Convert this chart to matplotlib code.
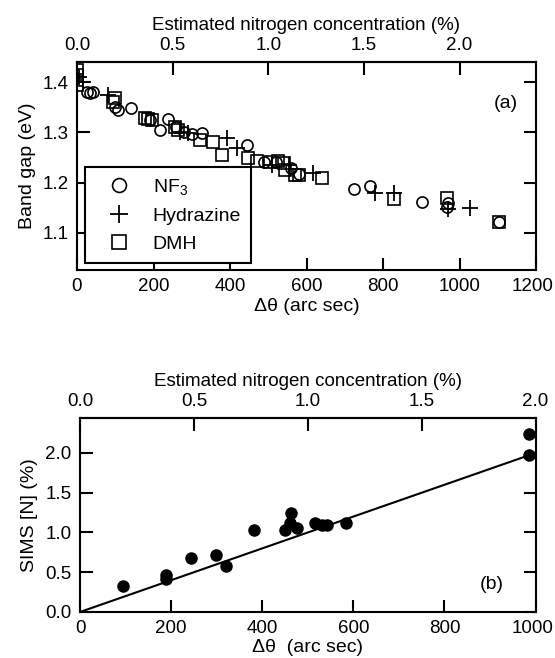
import matplotlib
matplotlib.use("Agg")
import matplotlib.pyplot as plt
from matplotlib.lines import Line2D
from matplotlib.transforms import ScaledTranslation

plt.rcParams['font.family'] = ['Liberation Sans', 'DejaVu Sans']
plt.rcParams['mathtext.fontset'] = 'custom'
plt.rcParams['mathtext.rm'] = 'Liberation Sans'
plt.rcParams['mathtext.it'] = 'Liberation Sans:italic'
plt.rcParams['font.size'] = 14

# ---- Panel (a) data ----
nf3_x = [25, 35, 42, 100, 108, 141, 190, 217, 238, 260, 280, 300, 326, 444,
         490, 520, 560, 580, 724, 766, 901, 967, 970, 1103]
nf3_y = [1.380, 1.378, 1.380, 1.350, 1.345, 1.348, 1.325, 1.305, 1.326, 1.310,
         1.300, 1.297, 1.298, 1.275, 1.240, 1.240, 1.230, 1.218, 1.187, 1.193,
         1.162, 1.151, 1.160, 1.122]

hyd_x = [5, 16, 82, 270, 290, 392, 418, 510, 555, 617, 779, 829, 969, 1027]
hyd_y = [1.410, 1.400, 1.374, 1.300, 1.298, 1.288, 1.268, 1.235, 1.235, 1.220,
         1.180, 1.180, 1.148, 1.150]

dmh_x = [0, 0, 0, 0, 100, 95, 178, 185, 195, 255, 265, 321, 356, 378, 448,
         470, 505, 525, 540, 545, 570, 580, 640, 829, 967, 1103]
dmh_y = [1.424, 1.415, 1.405, 1.395, 1.368, 1.360, 1.328, 1.326, 1.325, 1.310,
         1.305, 1.285, 1.280, 1.255, 1.248, 1.242, 1.240, 1.242, 1.238, 1.225,
         1.215, 1.215, 1.210, 1.167, 1.169, 1.122]

legend_labels = ['NF$_3$', 'Hydrazine', 'DMH']

# ---- Panel (b) data ----
sims_x = [95, 188, 188, 243, 299, 321, 381, 450, 463, 462, 476, 516, 532, 543,
          585, 985, 985]
sims_y = [0.33, 0.46, 0.42, 0.68, 0.72, 0.58, 1.03, 1.03, 1.25, 1.12, 1.06,
          1.12, 1.10, 1.10, 1.12, 2.24, 1.97]
fit_x = [0, 1000]
fit_y = [0.0, 2.0]

xticks_a = [0, 200, 400, 600, 800, 1000, 1200]
yticks_a = [1.1, 1.2, 1.3, 1.4]
xticks_b = [0, 200, 400, 600, 800, 1000]
yticks_b = [0.0, 0.5, 1.0, 1.5, 2.0]
top_ticks_a = [0.0, 0.5, 1.0, 1.5, 2.0]
top_ticks_b = [0.0, 0.5, 1.0, 1.5, 2.0]

fig = plt.figure(figsize=(5.55, 6.58), dpi=100)
W, H = 555, 658

def add_ax(l, r, t, b):
    return fig.add_axes([l / W, 1 - b / H, (r - l) / W, (b - t) / H])

ax1 = add_ax(77, 536, 62, 270)
ax2 = add_ax(80, 535.5, 418, 612)

lw_sp = 1.5
tick_kw = dict(direction='in', length=9, width=1.5, labelsize=13.5, pad=6)

def conv(x):
    return x / 500.0

def inv(p):
    return p * 500.0

for ax in (ax1, ax2):
    for s in ax.spines.values():
        s.set_linewidth(lw_sp)
    ax.tick_params(axis='both', which='major', **tick_kw)
    ax.tick_params(axis='y', right=True, labelright=False)
    ax.tick_params(axis='x', top=False)

# Panel (a)
mk = dict(linestyle='none', color='black', markerfacecolor='none',
          markeredgecolor='black', markersize=8, markeredgewidth=1.2)
ax1.plot(nf3_x, nf3_y, marker='o', **mk)
ax1.plot(hyd_x, hyd_y, marker='+', linestyle='none', color='black',
         markersize=11, markeredgewidth=1.3)
ax1.plot(dmh_x, dmh_y, marker='s', **mk)
ax1.set_xlim(0, 1200)
ax1.set_ylim(1.026, 1.44)
ax1.set_xticks(xticks_a)
ax1.set_xticklabels([str(v) for v in xticks_a])
ax1.set_yticks(yticks_a)
ax1.set_yticklabels(['%.1f' % v for v in yticks_a])
ax1.set_xlabel('\u0394\u03b8 (arc sec)', fontsize=14, labelpad=2)
ax1.set_ylabel('Band gap (eV)', fontsize=14, labelpad=5)
ax1.text(0.935, 0.80, '(a)', transform=ax1.transAxes, fontsize=14,
         ha='center', va='center')

sec1 = ax1.secondary_xaxis('top', functions=(conv, inv))
sec1.set_xticks(top_ticks_a)
sec1.set_xticklabels(['%.1f' % v for v in top_ticks_a])
sec1.tick_params(**tick_kw)
sec1.spines['top'].set_linewidth(lw_sp)
sec1.set_xlabel('Estimated nitrogen concentration (%)', fontsize=13.5,
                labelpad=5)

handles = [
    Line2D([], [], marker='o', **{**mk, 'markersize': 10}),
    Line2D([], [], marker='+', linestyle='none', color='black', markersize=13,
           markeredgewidth=1.3),
    Line2D([], [], marker='s', **{**mk, 'markersize': 10}),
]
leg = ax1.legend(handles, legend_labels, loc='lower left',
                 bbox_to_anchor=(0.017, 0.034), borderaxespad=0,
                 fancybox=False, framealpha=1, edgecolor='black',
                 fontsize=14, handlelength=2.5, handletextpad=0.5,
                 labelspacing=0.55, borderpad=0.5)
leg.get_frame().set_linewidth(1.5)

# Panel (b)
ax2.plot(fit_x, fit_y, color='black', linewidth=1.5)
ax2.plot(sims_x, sims_y, marker='o', linestyle='none', color='black',
         markersize=8)
ax2.set_xlim(0, 1000)
ax2.set_ylim(0, 2.44)
ax2.set_xticks(xticks_b)
ax2.set_xticklabels([str(v) for v in xticks_b])
ax2.set_yticks(yticks_b)
ax2.set_yticklabels(['%.1f' % v for v in yticks_b])
ax2.set_xlabel('\u0394\u03b8  (arc sec)', fontsize=14, labelpad=1)
ax2.set_ylabel('SIMS [N] (%)', fontsize=14, labelpad=5)
ax2.text(0.905, 0.14, '(b)', transform=ax2.transAxes, fontsize=14,
         ha='center', va='center')

sec2 = ax2.secondary_xaxis('top', functions=(conv, inv))
sec2.set_xticks(top_ticks_b)
sec2.set_xticklabels(['%.1f' % v for v in top_ticks_b])
sec2.tick_params(**tick_kw)
sec2.spines['top'].set_linewidth(lw_sp)
sec2.set_xlabel('Estimated nitrogen concentration (%)', fontsize=13.5,
                labelpad=5)

# nudge the right-most bottom tick labels slightly left, as in the reference
shift = ScaledTranslation(-3 / 100, 0, fig.dpi_scale_trans)
for ax in (ax1, ax2):
    lab = ax.xaxis.get_major_ticks()[-1].label1
    lab.set_transform(lab.get_transform() + shift)

fig.savefig('out.png', dpi=100)
